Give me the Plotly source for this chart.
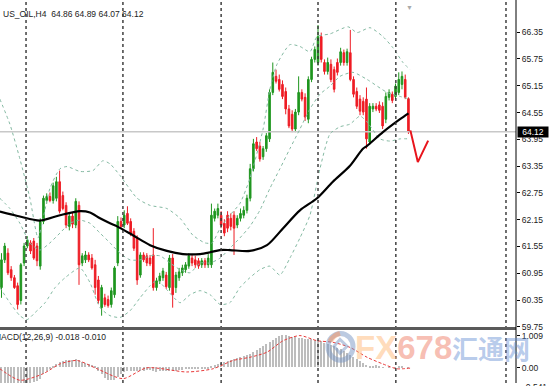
import plotly.graph_objects as go

# ---------------- DATA ----------------
open_ = [60.63,61.25,61.40,61.03,60.85,60.67,60.34,61.18,61.56,61.63,61.67,61.56,61.11,62.11,62.58,62.67,62.58,62.63,63.00,62.69,
         62.47,62.00,62.23,62.03,62.47,61.18,61.25,61.36,61.29,61.14,60.80,60.18,60.40,60.36,60.25,60.47,61.18,62.11,62.03,62.29,
         62.11,61.89,61.74,60.91,61.36,61.34,61.29,61.36,60.63,60.78,60.85,60.91,60.63,61.29,60.63,60.85,60.96,61.03,61.11,61.29,
         61.25,61.23,61.14,61.23,61.14,61.14,62.18,62.25,62.25,62.07,62.25,62.18,62.25,62.03,62.18,62.25,62.36,62.63,63.29,63.89,
         63.80,63.56,63.74,63.96,65.00,65.36,65.29,65.18,65.02,64.63,64.51,64.18,64.56,65.00,64.89,64.40,65.29,65.74,65.67,66.25,
         65.67,65.47,65.63,65.51,65.67,65.67,65.89,65.67,65.89,65.29,65.02,64.85,64.80,64.85,63.89,64.63,64.69,64.72,64.69,64.40,
         64.89,64.96,64.91,65.00,65.18,65.29,64.86]
high = [61.40,61.63,61.51,61.11,60.91,60.74,61.18,61.63,61.78,61.69,61.74,61.63,62.18,62.69,62.74,62.76,62.98,63.11,63.25,62.78,
        62.54,62.29,62.31,62.63,62.56,61.40,61.45,61.42,61.38,61.25,60.89,60.69,60.49,60.45,60.63,61.11,62.23,62.20,62.36,62.45,
        62.18,61.96,61.80,61.42,61.42,61.40,61.36,61.96,60.85,60.96,61.07,60.98,61.36,61.38,60.98,61.07,61.14,61.20,61.40,61.38,
        61.34,61.29,61.29,61.29,61.38,62.51,62.40,62.51,62.34,62.16,62.34,62.29,62.34,62.25,62.40,62.45,62.71,63.40,63.96,64.00,
        63.89,63.80,64.09,65.07,65.67,65.51,65.40,65.27,65.11,64.72,64.60,64.63,65.36,65.07,64.98,65.36,65.80,66.03,66.51,66.34,
        65.74,65.78,65.74,65.58,65.76,66.00,65.96,65.98,66.40,65.36,65.11,64.94,64.89,65.11,64.76,64.76,64.76,64.80,64.78,65.00,
        65.07,65.02,65.20,65.45,65.47,65.40,64.89]
low = [60.40,61.18,60.91,60.78,60.60,60.14,60.25,61.11,61.51,61.38,61.25,61.11,61.03,62.05,62.51,62.54,62.51,62.56,62.29,62.36,
       61.96,61.91,61.96,61.96,60.69,61.11,61.18,61.20,61.03,60.47,60.27,60.00,60.20,60.18,60.18,60.40,61.11,61.94,61.96,62.03,
       61.78,61.45,60.69,60.85,61.20,61.11,61.11,60.56,60.56,60.71,60.78,60.60,60.56,60.18,60.51,60.78,60.89,60.96,61.05,61.11,
       61.07,61.05,61.07,61.07,61.07,61.07,62.11,62.18,61.96,61.78,61.87,61.91,61.36,61.96,62.11,62.18,62.29,62.56,63.23,63.69,
       63.45,63.49,63.67,63.89,64.94,65.20,65.02,64.85,64.51,64.20,64.11,64.11,64.49,64.80,64.36,64.31,65.23,65.67,65.60,65.67,
       65.40,65.40,65.23,65.00,65.38,65.60,65.60,65.60,65.25,64.89,64.63,64.49,64.49,63.74,63.83,64.56,64.58,64.54,64.18,64.31,
       64.82,64.76,64.85,64.94,65.07,64.85,64.07]
close = [61.25,61.56,60.96,60.85,60.63,60.25,61.14,61.56,61.69,61.45,61.29,61.23,62.11,62.63,62.67,62.58,62.91,63.00,62.34,62.40,
         62.03,62.23,62.05,62.56,61.14,61.34,61.36,61.25,61.07,60.63,60.34,60.63,60.25,60.23,60.56,61.07,62.11,62.00,62.25,62.07,
         61.85,61.51,60.80,61.36,61.25,61.18,61.16,60.63,60.78,60.89,61.00,60.65,61.29,60.47,60.91,60.98,61.07,61.14,61.34,61.18,
         61.14,61.11,61.23,61.14,61.29,62.25,62.34,62.40,62.03,61.85,61.96,62.00,61.96,62.18,62.29,62.36,62.63,63.29,63.85,63.74,
         63.51,63.74,64.03,65.00,65.45,65.25,65.07,64.91,64.63,64.25,64.18,64.56,65.00,64.85,64.45,65.29,65.74,65.96,66.25,65.74,
         65.47,65.67,65.29,65.07,65.45,65.91,65.67,65.91,65.29,64.96,64.69,64.58,64.56,63.96,64.69,64.69,64.63,64.60,64.25,64.91,
         65.00,64.82,65.14,65.29,65.36,64.89,64.12]
bars = list(range(len(close)))

ma_x = [-0.5,5.7,11.9,18.1,24.3,27.4,30.5,33.6,35.8,40.7,46.0,51.2,56.2,61.5,64.6,67.6,70.7,76.9,82.2,87.2,92.4,97.7,102.6,107.9,111.9,113.1,118.1,123.4,126.0]
ma_y = [62.33,62.22,62.13,62.25,62.34,62.31,62.18,62.07,62.00,61.80,61.58,61.45,61.38,61.38,61.42,61.47,61.47,61.45,61.58,61.96,62.36,62.63,63.00,63.36,63.74,63.80,64.11,64.40,64.53]

bb_up_x = [-0.5,2.6,5.7,8.8,11.3,12.9,15.0,18.1,20.3,24.3,28.3,31.4,33.6,36.7,42.0,46.0,51.2,55.3,59.3,63.0,65.2,67.7,70.7,73.8,76.9,81.0,83.1,85.3,89.3,92.4,95.5,97.7,101.7,107.3,110.1,114.1,118.1,121.2,124.3,126.5]
bb_up_y = [64.85,64.29,63.51,62.63,61.74,62.18,62.85,63.29,63.34,63.23,63.25,63.47,63.40,63.14,62.63,62.47,62.40,62.18,61.80,61.63,61.63,61.96,62.25,62.51,63.07,64.18,65.07,65.63,66.07,66.03,65.91,66.25,66.31,66.47,66.34,66.45,66.25,66.00,65.67,65.51]

bb_mid_x = [-0.5,2.6,5.7,8.8,11.9,15.0,18.1,21.2,24.3,27.4,30.5,33.6,36.7,39.8,42.9,46.0,49.1,52.2,55.3,58.4,61.5,64.6,67.7,70.7,73.8,76.9,80.0,83.1,86.2,89.3,92.4,95.5,98.6,101.7,104.8,108.8,113.2,119.4,123.4,126.5]
bb_mid_y = [62.63,62.40,62.07,61.63,61.47,61.63,61.85,62.07,62.14,62.07,61.85,61.63,61.40,61.25,61.25,61.34,61.34,61.18,61.03,60.96,61.18,61.18,61.29,61.51,61.74,62.00,62.36,62.85,63.29,63.74,64.18,64.63,64.96,65.14,65.36,65.45,65.29,65.00,64.91,64.85]

bb_lo_x = [-0.5,2.6,5.7,7.9,10.4,13.5,16.6,19.7,24.3,27.4,30.5,33.6,36.7,39.8,42.9,46.0,48.1,51.2,55.3,58.4,61.5,64.6,67.7,70.7,73.8,76.9,80.0,83.1,86.2,89.3,92.4,95.5,98.6,101.7,104.8,107.9,111.0,113.2,117.2,120.3,123.4,126.5]
bb_lo_y = [60.63,60.29,60.00,59.91,60.07,60.29,60.63,60.85,61.07,60.74,60.18,60.00,59.96,60.11,60.40,60.67,60.80,60.58,60.29,60.47,60.56,60.47,60.25,60.29,60.63,60.85,61.03,61.11,60.91,61.29,61.74,62.25,63.29,64.07,64.23,64.29,64.47,64.34,63.96,63.91,63.96,63.96]

macd_hist = [-0.50,-0.52,-0.53,-0.55,-0.56,-0.58,-0.55,-0.52,-0.50,-0.48,-0.46,-0.44,
             -0.35,-0.22,-0.12,-0.04,0.03,0.10,0.16,
             0.20,0.22,0.23,0.24,0.25,0.22,0.18,0.15,0.12,0.08,
             0.02,-0.10,-0.22,-0.32,-0.38,-0.40,-0.38,-0.30,-0.22,-0.15,-0.12,-0.12,
             -0.10,-0.12,-0.12,-0.10,-0.09,-0.09,-0.11,-0.13,-0.12,-0.11,-0.10,-0.10,-0.12,-0.11,-0.09,-0.08,-0.06,-0.05,-0.05,-0.04,-0.04,-0.04,-0.03,-0.03,
             0.02,0.06,0.10,0.14,0.17,0.20,0.23,0.26,0.29,0.32,0.35,
             0.38,0.42,0.48,0.55,0.62,0.68,0.74,0.80,0.86,
             0.92,0.98,1.00,1.00,0.98,0.96,0.94,0.93,0.92,0.90,0.90,
             0.88,0.86,0.85,0.82,0.78,0.74,0.70,0.66,0.62,0.58,
             0.52,0.46,0.40,0.33,0.27,0.20,0.14,0.08,0.04,0.02,
             0.06,0.03,-0.01,0.00,0.01,0.00,0.01,0.02,0.03,0.00,-0.018]
sig_x = [-0.5,5.7,12.8,18.1,23.4,29.6,37.6,45.0,57.4,65.5,71.7,76.9,82.2,87.2,92.4,97.7,102.6,107.9,113.2,118.1,122.4,126.5]
sig_y = [-0.03,-0.39,-0.19,0.12,0.23,-0.03,-0.34,0.00,-0.13,-0.03,0.23,0.33,0.49,0.85,1.01,0.85,0.80,0.64,0.33,0.12,-0.03,-0.01]

proj_x = [126.6, 128.9, 132.1]
proj_y = [64.15, 63.44, 63.92]

last_price = 64.12
price_ticks = [59.75,60.35,60.95,61.55,62.15,62.75,63.35,63.95,64.55,65.15,65.75,66.35]
macd_ticks = [1.009, 0.0]
title_text = "US_OIL,H4  64.86 64.89 64.07 64.12"
macd_text = "MACD(12,26,9) -0.018 -0.010"

# ---------------- STYLE ----------------
W, H = 549, 386
PLOT_W = 516
GREEN = "#1f961f"
RED = "#ee1c24"
BAND = "#84b9a2"
FONT = "Liberation Sans, Arial, sans-serif"
separators = [7.6, 37.6, 68.0, 98.0, 122.1, 156.2]
x_range = [-0.46, 159.3]
main_range = [67.07 - 331/45, 67.07]
macd_range = [-0.476, 1.172]
main_dom = [1 - 331/H, 1]
macd_dom = [0, 53/H]

fig = go.Figure()

fig.add_trace(go.Scatter(x=[x_range[0], x_range[1]], y=[last_price, last_price], mode="lines",
                         line=dict(color="#c8c8c8", width=1.5), hoverinfo="skip", showlegend=False))

for xs, ys in [(bb_up_x, bb_up_y), (bb_mid_x, bb_mid_y), (bb_lo_x, bb_lo_y)]:
    fig.add_trace(go.Scatter(x=xs, y=ys, mode="lines", line=dict(color=BAND, width=1, dash="3px,3px", shape="spline", smoothing=0.6),
                             hoverinfo="skip", showlegend=False))

fig.add_trace(go.Candlestick(x=bars, open=open_, high=high, low=low, close=close,
                             increasing=dict(line=dict(color=GREEN, width=1), fillcolor=GREEN),
                             decreasing=dict(line=dict(color=RED, width=1), fillcolor=RED),
                             whiskerwidth=0, hoverinfo="skip", showlegend=False))

fig.add_trace(go.Scatter(x=ma_x, y=ma_y, mode="lines", line=dict(color="#000000", width=2.2, shape="spline", smoothing=0.8),
                         hoverinfo="skip", showlegend=False))

fig.add_trace(go.Scatter(x=proj_x, y=proj_y, mode="lines", line=dict(color="#e8141c", width=2),
                         hoverinfo="skip", showlegend=False))

fig.add_trace(go.Bar(x=bars, y=macd_hist, yaxis="y2", marker=dict(color="#bdbdbd", line=dict(width=0)), width=0.35,
                     hoverinfo="skip", showlegend=False))
fig.add_trace(go.Scatter(x=sig_x, y=sig_y, yaxis="y2", mode="lines",
                         line=dict(color="#e83a3a", width=1, dash="3px,2px", shape="spline", smoothing=0.7),
                         hoverinfo="skip", showlegend=False))

shapes = []
for s in separators:
    shapes.append(dict(type="line", xref="x", yref="paper", x0=s, x1=s, y0=0, y1=1,
                       line=dict(color="#333333", width=1.4, dash="dot"), layer="above"))
shapes.append(dict(type="line", xref="paper", yref="paper", x0=0, x1=1, y0=1 - 331/H, y1=1 - 331/H,
                   line=dict(color="#5a5a5a", width=3)))
shapes.append(dict(type="line", xref="paper", yref="paper", x0=1, x1=1, y0=0, y1=1,
                   line=dict(color="#000000", width=1)))
shapes.append(dict(type="circle", xref="paper", yref="paper", x0=328/PLOT_W, x1=353/PLOT_W, y0=1 - 363/H, y1=1 - 336/H,
                   line=dict(color="rgba(120,150,195,0.5)", width=5), layer="above"))
shapes.append(dict(type="path", xref="paper", yref="paper",
                   path=f"M {330/PLOT_W},{1-344/H} Q {333/PLOT_W},{1-338/H} {340/PLOT_W},{1-336/H}",
                   line=dict(color="rgba(245,150,100,0.55)", width=5), layer="above"))
shapes.append(dict(type="path", xref="paper", yref="paper",
                   path=f"M {334/PLOT_W},{1-349/H} L {340/PLOT_W},{1-342/H} L {347/PLOT_W},{1-349/H} L {340/PLOT_W},{1-356/H} Z",
                   line=dict(color="rgba(120,150,195,0.5)", width=3), layer="above"))

annotations = [
    dict(text=title_text, xref="paper", yref="paper", x=0, y=1 - 14/H, xanchor="left", yanchor="middle", xshift=1,
         showarrow=False, font=dict(family=FONT, size=8.5, color="#222")),
    dict(text=macd_text, xref="paper", yref="paper", x=0, y=1 - 340/H, xanchor="left", yanchor="middle", xshift=-8,
         showarrow=False, font=dict(family=FONT, size=8.5, color="#222")),
    dict(text=f"{last_price:.2f}", xref="paper", yref="y", x=1, y=last_price, xanchor="left", yanchor="middle", xshift=1,
         showarrow=False, bgcolor="#000000", font=dict(family=FONT, size=8.5, color="#ffffff"), width=30, borderpad=0),
    dict(text="<b><span style='color:rgba(255,190,130,0.55)'>FX</span><span style='color:rgba(240,135,115,0.55)'>678</span></b>",
         xref="paper", yref="paper", x=403/PLOT_W, y=1 - 350/H, xanchor="center", yanchor="middle",
         showarrow=False, font=dict(family="Liberation Sans Narrow, Liberation Sans", size=33)),
    dict(text="<b>汇通网</b>", xref="paper", yref="paper", x=491/PLOT_W, y=1 - 350/H, xanchor="center", yanchor="middle",
         showarrow=False, font=dict(family="Noto Sans CJK SC", size=26, color="rgba(95,140,210,0.45)")),
    dict(text="▼", xref="paper", yref="paper", x=409/PLOT_W, y=1 - 8/H, xanchor="center", yanchor="middle",
         showarrow=False, font=dict(size=7, color="#aaaaaa")),
    dict(text="-0.541", xref="paper", yref="paper", x=1, y=-4/H, xanchor="left", yanchor="middle", xshift=5,
         showarrow=False, font=dict(family=FONT, size=8.5, color="#222")),
]

fig.update_layout(
    width=W, height=H,
    margin=dict(l=0, r=W - PLOT_W, t=0, b=0),
    paper_bgcolor="#ffffff", plot_bgcolor="#ffffff",
    showlegend=False, bargap=0,
    xaxis=dict(range=x_range, showgrid=False, zeroline=False, showticklabels=False, ticks="",
               rangeslider=dict(visible=False), fixedrange=True),
    yaxis=dict(domain=main_dom, range=main_range, side="right", showgrid=False, zeroline=False,
               tickvals=price_ticks, ticktext=[f"{v:.2f}" for v in price_ticks], ticks="outside", ticklen=3,
               tickcolor="#000", showline=False, tickfont=dict(family=FONT, size=8.5, color="#222")),
    yaxis2=dict(domain=macd_dom, range=macd_range, side="right", anchor="x", showgrid=False, zeroline=False,
                tickvals=macd_ticks, ticktext=["1.009", "0.00"], ticks="outside", ticklen=3, tickcolor="#000",
                tickfont=dict(family=FONT, size=8.5, color="#222")),
    shapes=shapes, annotations=annotations,
)

fig.write_html("out.html", config={"displayModeBar": False},
               post_script="document.body.style.margin='0';document.body.style.padding='0';document.body.style.overflow='hidden';")
